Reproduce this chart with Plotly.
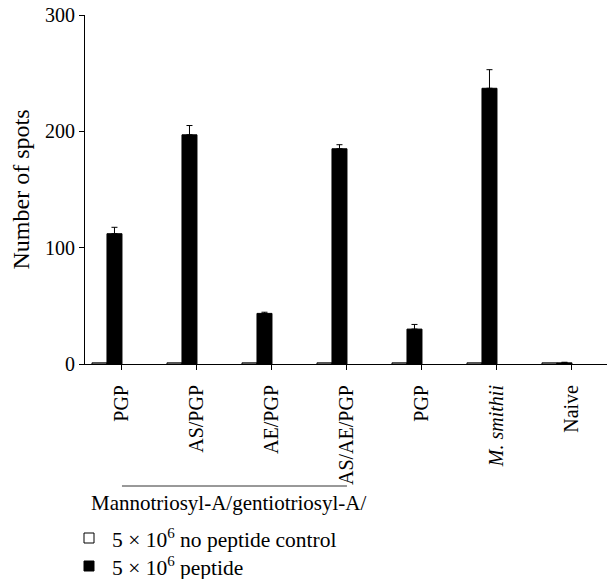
import plotly.graph_objects as go

categories = ["PGP", "AS/PGP", "AE/PGP", "AS/AE/PGP", "PGP", "<i>M. smithii</i>", "Naive"]
control_values = [1, 1, 1, 1, 1, 1, 1]
peptide_values = [112, 197, 43.5, 185, 30, 237, 1]
peptide_errors = [5.5, 8, 1, 3.5, 4, 16, 0.5]
y_ticks = [0, 100, 200, 300]
group_label = "Mannotriosyl-A/gentiotriosyl-A/"
legend_control = "5 × 10<sup>6</sup> no peptide control"
legend_peptide = "5 × 10<sup>6</sup> peptide"

FONT = "Liberation Serif"
FS = 20
positions = list(range(len(categories)))

# pixel helpers (plot area: x 85..607, y 15..364)
def px(x):
    return (x - 85) / 522.0

def py(y):
    return (364 - y) / 349.0

fig = go.Figure()
fig.add_trace(go.Bar(
    x=positions, y=control_values, name=legend_control,
    offset=-0.4, width=0.2,
    marker=dict(color="white", line=dict(color="black", width=1)),
))
fig.add_trace(go.Bar(
    x=positions, y=peptide_values, name=legend_peptide,
    offset=-0.2, width=0.2,
    marker=dict(color="black", line=dict(color="black", width=1)),
    error_y=dict(type="data", array=peptide_errors, arrayminus=[0]*len(peptide_errors),
                 symmetric=False, color="black", thickness=1, width=3),
))

fig.update_layout(
    width=607, height=579,
    margin=dict(l=85, r=0, t=15, b=215, autoexpand=False),
    plot_bgcolor="white", paper_bgcolor="white",
    font=dict(family=FONT, size=FS, color="black"),
    barmode="overlay",
    showlegend=False,
)
fig.update_xaxes(
    range=[-0.493, 6.467], tickmode="array", tickvals=positions, ticktext=categories,
    tickangle=-90, ticks="outside", ticklen=5, tickcolor="black",
    showline=True, linecolor="black", linewidth=1, showgrid=False, zeroline=False,
    tickfont=dict(family=FONT, size=FS, color="black"), ticklabelstandoff=7,
)
fig.update_yaxes(
    range=[0, 300], tickmode="array", tickvals=y_ticks,
    ticks="outside", ticklen=5, tickcolor="black",
    showline=True, linecolor="black", linewidth=1, showgrid=False, zeroline=False,
    tickfont=dict(family=FONT, size=FS, color="black"),
    title=dict(text="Number of spots", font=dict(family=FONT, size=24, color="black"), standoff=8),
)

# group bracket line and label
fig.add_shape(type="line", xref="x", yref="paper", x0=0, x1=3, y0=py(486), y1=py(486),
              line=dict(color="#333333", width=1))
fig.add_annotation(text=group_label, xref="paper", yref="paper", x=px(228), y=py(503),
                   xanchor="center", yanchor="middle", showarrow=False,
                   font=dict(family=FONT, size=21, color="black"))

# manual legend
legend_items = [(legend_control, "white", 538), (legend_peptide, "black", 566)]
for text, color, yc in legend_items:
    fig.add_shape(type="rect", xref="paper", yref="paper",
                  x0=px(84), x1=px(94), y0=py(yc - 5), y1=py(yc + 5),
                  fillcolor=color, line=dict(color="black", width=1))
    fig.add_annotation(text=text, xref="paper", yref="paper", x=px(110), y=py(yc),
                       xanchor="left", yanchor="middle", showarrow=False,
                       font=dict(family=FONT, size=21.5, color="black"))

fig.write_html("out.html")
